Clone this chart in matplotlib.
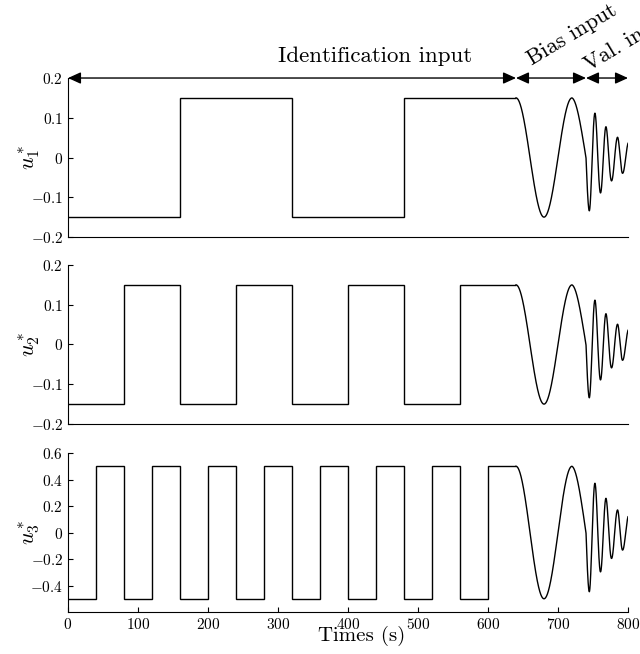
import matplotlib
matplotlib.use("Agg")
import matplotlib.pyplot as plt
import numpy as np

plt.rcParams["font.family"] = "serif"
plt.rcParams["font.serif"] = ["cmr10"]
plt.rcParams["mathtext.fontset"] = "cm"
plt.rcParams["axes.formatter.use_mathtext"] = True

# square-wave identification inputs: switching times and levels
u1_edges = [0, 160, 320, 480, 640]
u1_levels = [-0.15, 0.15, -0.15, 0.15]
u2_edges = [0, 80, 160, 240, 320, 400, 480, 560, 640]
u2_levels = [-0.15, 0.15, -0.15, 0.15, -0.15, 0.15, -0.15, 0.15]
u3_edges = [0, 40, 80, 120, 160, 200, 240, 280, 320, 360, 400, 440, 480, 520, 560, 600, 640]
u3_levels = [-0.5, 0.5] * 8

# bias + validation oscillation, read as knots (time, phase in half-turns, relative amplitude)
osc_t = [640, 680, 720, 740, 744.8, 752.9, 760.9, 768.6, 776.7, 785.2, 792.4, 800]
osc_phase = [0, 1, 2, 2.5, 3, 4, 5, 6, 7, 8, 9, 9.88]
osc_amp = [1.0, 1.0, 1.0, 0.9, 0.894, 0.742, 0.592, 0.516, 0.39, 0.34, 0.264, 0.256]
osc_scale = [0.15, 0.15, 0.5]

y_labels = [r"$u_1^*$", r"$u_2^*$", r"$u_3^*$"]
small_ticks = [-0.2, -0.1, 0, 0.1, 0.2]
small_ticklabels = [r"$-0.2$", r"$-0.1$", r"$0$", r"$0.1$", r"$0.2$"]
big_ticks = [-0.4, -0.2, 0, 0.2, 0.4, 0.6]
big_ticklabels = [r"$-0.4$", r"$-0.2$", r"$0$", r"$0.2$", r"$0.4$", r"$0.6$"]
x_ticks = [0, 100, 200, 300, 400, 500, 600, 700, 800]

# phase boundaries for the annotation arrows
phase_edges = [0, 640, 740, 800]
phase_names = ["Identification input", "Bias input", "Val. input"]


def main():
    fig = plt.figure(figsize=(6.4, 6.54), dpi=100)
    left, width, height = 0.10625, 0.875, 0.2431
    bottoms = [0.6376, 0.3517, 0.0642]
    axes = [fig.add_axes([left, b, width, height]) for b in bottoms]

    t = np.linspace(osc_t[0], osc_t[-1], 3000)
    shape = np.interp(t, osc_t, osc_amp) * np.cos(np.pi * np.interp(t, osc_t, osc_phase))

    squares = [(u1_edges, u1_levels), (u2_edges, u2_levels), (u3_edges, u3_levels)]
    for i, ax in enumerate(axes):
        edges, levels = squares[i]
        ax.stairs(levels, edges, baseline=None, color="black", lw=1.0)
        ax.plot(t, osc_scale[i] * shape, color="black", lw=1.0)
        ax.set_xlim(0, 800)
        for side in ("top", "right"):
            ax.spines[side].set_visible(False)
        ax.tick_params(direction="in", length=3.5, labelsize=11)
        ax.set_ylabel(y_labels[i], fontsize=16)
        ax.yaxis.set_label_coords(-0.047, 0.5)
        if i < 2:
            ax.set_ylim(-0.2, 0.2)
            ax.set_yticks(small_ticks, small_ticklabels)
            ax.tick_params(axis="x", bottom=False, labelbottom=False)
        else:
            ax.set_ylim(-0.6, 0.6)
            ax.set_yticks(big_ticks, big_ticklabels)
            ax.set_xticks(x_ticks, [f"${v}$" for v in x_ticks])
            ax.set_xlabel("Times (s)", fontsize=15)
            ax.xaxis.set_label_coords(0.525, -0.09)

    top = axes[0]
    for a, b in zip(phase_edges[:-1], phase_edges[1:]):
        top.annotate("", xy=(a, 0.2), xytext=(b, 0.2), annotation_clip=False,
                     arrowprops=dict(arrowstyle="<|-|>,head_length=0.55,head_width=0.25",
                                     mutation_scale=14, color="black", lw=1,
                                     shrinkA=0, shrinkB=0))
    top.text(438, 0.24, phase_names[0], fontsize=16.5, ha="center", va="baseline", clip_on=False)
    top.text(663, 0.232, phase_names[1], fontsize=16, rotation=31, rotation_mode="anchor",
             ha="left", va="baseline", clip_on=False)
    top.text(744, 0.215, phase_names[2], fontsize=16, rotation=31, rotation_mode="anchor",
             ha="left", va="baseline", clip_on=False)

    fig.savefig("out.png", dpi=100)


if __name__ == "__main__":
    main()
